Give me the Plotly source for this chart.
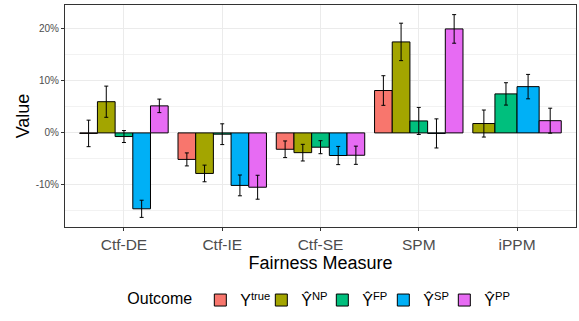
import plotly.graph_objects as go

categories = ["Ctf-DE", "Ctf-IE", "Ctf-SE", "SPM", "iPPM"]

series_names = ["Y<sup>true</sup>", "Ŷ<sup>NP</sup>", "Ŷ<sup>FP</sup>", "Ŷ<sup>SP</sup>", "Ŷ<sup>PP</sup>"]
series_colors = ["#F8766D", "#A3A500", "#00BF7D", "#00B0F6", "#E76BF3"]

y_true = [-0.1, -5.1, -3.15, 8.15, None]
y_true_err = [2.55, 1.25, 1.6, 2.85, None]
y_np = [6.0, -7.8, -3.8, 17.5, 1.8]
y_np_err = [3.0, 1.6, 1.6, 3.6, 2.6]
y_fp = [-0.7, -0.25, -2.75, 2.3, 7.5]
y_fp_err = [1.15, 2.0, 1.25, 2.6, 2.15]
y_sp = [-14.6, -10.1, -4.35, -0.1, 8.9]
y_sp_err = [1.65, 2.0, 1.75, 2.8, 2.35]
y_pp = [5.2, -10.45, -4.3, 20.0, 2.35]
y_pp_err = [1.3, 2.3, 1.75, 2.75, 2.4]

y_tickvals = [-10, 0, 10, 20]
y_ticktext = ["-10%", "0%", "10%", "20%"]

values = [y_true, y_np, y_fp, y_sp, y_pp]
errors = [y_true_err, y_np_err, y_fp_err, y_sp_err, y_pp_err]

group_width = 0.9
# dodge like ggplot: bars in a group share the group width among present series
offsets = [[None] * len(categories) for _ in values]
widths = [[None] * len(categories) for _ in values]
for i in range(len(categories)):
    present = [s for s in range(len(values)) if values[s][i] is not None]
    w = group_width / len(present)
    for k, s in enumerate(present):
        offsets[s][i] = -group_width / 2 + k * w
        widths[s][i] = w

fig = go.Figure()
for s in range(len(values)):
    xs, ys, es, offs, ws = [], [], [], [], []
    for i, c in enumerate(categories):
        if values[s][i] is None:
            continue
        xs.append(c)
        ys.append(values[s][i])
        es.append(errors[s][i])
        offs.append(offsets[s][i])
        ws.append(widths[s][i])
    fig.add_trace(go.Bar(
        x=xs, y=ys, name=series_names[s],
        offset=offs, width=ws,
        marker=dict(color=series_colors[s], line=dict(color="black", width=1)),
        error_y=dict(type="data", array=es, color="black", thickness=1, width=2),
    ))

# invisible spacer legend entry so the last label is not clipped
fig.add_trace(go.Bar(
    x=[None], y=[None], name="", showlegend=True, hoverinfo="skip",
    marker=dict(color="rgba(0,0,0,0)", line=dict(width=0)),
))

fig.update_layout(
    width=579, height=321,
    margin=dict(l=65, r=3, t=5, b=94, autoexpand=False),
    barmode="overlay",
    plot_bgcolor="white", paper_bgcolor="rgba(0,0,0,0)",
    font=dict(family="Liberation Sans, Arial, sans-serif", color="black"),
    showlegend=True,
    legend=dict(
        orientation="h", x=0.118, xanchor="left",
        yref="container", y=0.065, yanchor="middle",
        bgcolor="rgba(0,0,0,0)",
        title=dict(text="Outcome", font=dict(size=16)),
        font=dict(size=16), traceorder="normal",
        entrywidth=16, entrywidthmode="pixels", itemwidth=30,
    ),
    xaxis=dict(
        categoryorder="array", categoryarray=categories,
        range=[-0.6, 4.6], automargin=False,
        showgrid=True, gridcolor="#EBEBEB", gridwidth=1,
        ticks="outside", ticklen=3, tickcolor="#333333",
        tickfont=dict(size=15.5, color="#4D4D4D"),
        title=dict(text="Fairness Measure", font=dict(size=18), standoff=3),
        showline=True, linecolor="#333333", mirror=True, zeroline=False,
    ),
    yaxis=dict(
        range=[-18.1, 24.6], automargin=False,
        tickvals=y_tickvals, ticktext=y_ticktext,
        showgrid=True, gridcolor="#EBEBEB", gridwidth=1,
        minor=dict(dtick=5, tick0=0, showgrid=True, gridcolor="#F2F2F2", gridwidth=0.6),
        ticks="outside", ticklen=3, tickcolor="#333333",
        tickfont=dict(size=10, color="#4D4D4D"),
        title=dict(text="Value", font=dict(size=18), standoff=1),
        showline=True, linecolor="#333333", mirror=True, zeroline=False,
    ),
)

fig.write_html("out.html", config={"displayModeBar": False},
               post_script="document.body.style.margin='0';")
